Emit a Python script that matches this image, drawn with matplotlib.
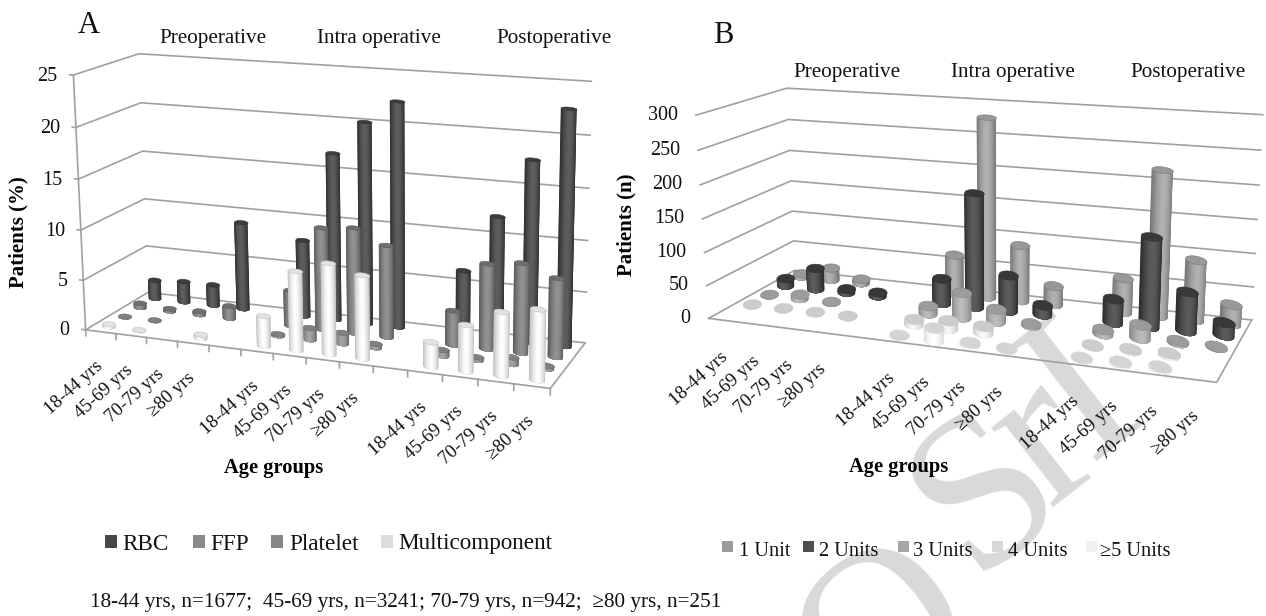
import numpy as np
import matplotlib
matplotlib.use("Agg")
import matplotlib.pyplot as plt
from mpl_toolkits.mplot3d.art3d import Poly3DCollection

plt.rcParams['font.family'] = ['Liberation Serif', 'DejaVu Sans']

W, H = 1266, 616
AGES = ['18-44 yrs', '45-69 yrs', '70-79 yrs', '≥80 yrs']
PERIODS = ['Preoperative', 'Intra operative', 'Postoperative']

# Panel A, percent of patients: pre, intra, post for each of the four age groups
rbc = [2.0, 2.2, 2.2, 9.0, 7.8, 16.8, 20.1, 22.3, 6.4, 12.0, 17.7, 22.7]
ffp = [0.5, 0.3, 0.4, 1.3, 3.6, 10.2, 10.5, 9.1, 3.4, 8.3, 8.7, 7.6]
platelet = [0.1, 0.1, 0.0, 0.0, 0.2, 1.2, 1.1, 0.4, 0.6, 0.3, 0.7, 0.3]
multicomponent = [0.3, 0.1, 0.0, 0.4, 3.0, 7.7, 8.8, 8.0, 2.4, 4.4, 6.0, 6.6]
series_a = ['RBC', 'FFP', 'Platelet', 'Multicomponent']
ticks_a = [0, 5, 10, 15, 20, 25]

# Panel B, number of patients
unit1 = [5, 20, 7, 0, 62, 278, 87, 29, 52, 218, 90, 29]
unit2 = [12, 34, 6, 6, 39, 175, 55, 15, 36, 133, 58, 19]
unit3 = [1, 7, 1, 0, 12, 38, 19, 3, 7, 20, 3, 1]
unit4 = [1, 1, 1, 1, 8, 12, 10, 0, 1, 2, 3, 0]
unit5 = [0, 0, 0, 0, 1, 18, 3, 1, 1, 2, 2, 0]
series_b = ['1 Unit', '2 Units', '3 Units', '4 Units', '≥5 Units']
ticks_b = [0, 50, 100, 150, 200, 250, 300]

# (centre, edge, cap) greys, back row first
shades_a = [('#5e5e5e', '#303030', '#3c3c3c'), ('#929292', '#5c5c5c', '#6e6e6e'),
            ('#a4a4a4', '#6a6a6a', '#808080'), ('#ffffff', '#c2c2c2', '#e2e2e2')]
shades_b = [('#b2b2b2', '#787878', '#989898'), ('#5c5c5c', '#2e2e2e', '#383838'),
            ('#bcbcbc', '#8a8a8a', '#9c9c9c'), ('#f8f8f8', '#c8c8c8', '#cccccc'),
            ('#ffffff', '#dcdcdc', '#d4d4d4')]


def fit_camera(anchors, sx, sy, sz):
    rows = []
    for X, Y, Z, u, v in anchors:
        X, Y, Z, u, v = X / sx, Y / sy, Z / sz, u / 1000, v / 1000
        rows.append([X, Y, Z, 1, 0, 0, 0, 0, -u * X, -u * Y, -u * Z, -u])
        rows.append([0, 0, 0, 0, X, Y, Z, 1, -v * X, -v * Y, -v * Z, -v])
    p = np.linalg.svd(np.array(rows))[2][-1].reshape(3, 4)
    p = p / p[2, 3]
    return np.diag([1000, 1000, 1.0]) @ p @ np.diag([1 / sx, 1 / sy, 1 / sz, 1])


fig = plt.figure(figsize=(W / 100, H / 100), dpi=100, facecolor='white')


def T(px, py, s, **kw):
    return fig.text(px / W, 1 - py / H, s, **kw)


def make_axes(P, ymax):
    ax = fig.add_axes([0, 0, 1, 1], projection='3d', computed_zorder=False)
    ax.set_proj_type('ortho')
    ax.patch.set_visible(False)
    ax.set_axis_off()
    ax.apply_aspect = lambda position=None: None

    def get_proj():
        T3 = ax.transData.get_affine().get_matrix()
        top = np.linalg.inv(T3) @ np.vstack([P[0], H * P[2] - P[1], P[2]])
        return np.vstack([top[0], top[1], [0, 0.4 / ymax, 0, 0.1], top[2]])
    ax.get_proj = get_proj
    return ax


def project(P, x, y, z):
    q = P @ np.array([x, y, z, 1.0])
    return q[0] / q[2], q[1] / q[2]


def cylinder(ax, x, y, h, rx, ry, shade, order, kappa):
    c0, c1, cap = [np.array(matplotlib.colors.to_rgb(c)) for c in shade]
    layers = 10
    for j in range(layers):
        # nested bands from the silhouette inward, so no seams appear between strips
        half = np.pi / 2 * (1 - j / layers)
        t = np.linspace(1.5 * np.pi - half, 1.5 * np.pi + half, 25)
        ex = x + rx * np.cos(t) - kappa * ry * np.sin(t)
        ey = y + ry * np.sin(t)
        band = [(a, b, 0) for a, b in zip(ex, ey)] + [(a, b, h) for a, b in zip(ex[::-1], ey[::-1])]
        k = np.cos(1.5 * np.pi - half) ** 2
        c = (1 - k) * c0 + k * c1
        poly = Poly3DCollection([band], facecolors=[c], edgecolors='none', linewidths=0,
                                zorder=order + 0.01 * j)
        poly.set_snap(False)
        ax.add_collection3d(poly, autolim=False)
    a = np.linspace(0, 2 * np.pi, 41)
    disc = [(x + rx * np.cos(v) - kappa * ry * np.sin(v), y + ry * np.sin(v), h) for v in a]
    top = Poly3DCollection([disc], facecolors=[cap], edgecolors=[c1], linewidths=0.4,
                           zorder=order + 0.2)
    top.set_snap(False)
    ax.add_collection3d(top, autolim=False)


def panel(anchors, rows, shades, zticks, rwx, rwy, line_color, has_ticks):
    nrow = len(rows)
    zmax = zticks[-1]
    P = fit_camera(anchors, 14, nrow, zmax)
    ax = make_axes(P, nrow)
    lw = 1.2
    for z in zticks:
        ax.plot([0, 0, 14], [0, nrow, nrow], [z, z, z], color=line_color, lw=lw, zorder=1,
                solid_joinstyle='miter')
    ax.plot([0, 14, 14], [0, 0, nrow], [0, 0, 0], color=line_color, lw=lw, zorder=1)
    if has_ticks:
        ax.plot([0, 0], [0, 0], [0, zmax], color=line_color, lw=lw, zorder=1)
        tz = -zmax * 0.024
        for i in range(15):
            ax.plot([i, i], [0, 0], [0, tz], color=line_color, lw=lw, zorder=1)
        for z in zticks:
            ax.plot([0, -0.12], [0, 0], [z, z], color=line_color, lw=lw, zorder=1)
    # oblique shift so that caps read as level ellipses on screen
    a = np.subtract(project(P, 7, nrow / 2 + 1, 0), project(P, 7, nrow / 2, 0))
    b = np.subtract(project(P, 8, nrow / 2, 0), project(P, 7, nrow / 2, 0))
    kappa = a[0] / b[0]
    for r, values in enumerate(rows):
        y = nrow - 0.5 - r
        for k, v in enumerate(values):
            if v <= 0:
                continue
            x = (k // 4) * 5 + (k % 4) + 0.5
            cylinder(ax, x, y, v, rwx, rwy, shades[r], 10 + r * 10 + k * 0.5, kappa)
    return P


anchors_a = [(0, 0, 0, 85, 330), (0, 0, 25, 74, 75), (0, 4, 0, 157, 293), (0, 4, 25, 138, 53),
             (14, 4, 0, 582, 342), (14, 4, 25, 592, 82), (14, 0, 0, 550, 387),
             (7, 0, 0, 306, 358), (0, 0, 10, 81, 230), (14, 4, 10, 586, 241),
             (0, 4, 10, 142, 199), (3, 0, 0, 177, 342), (11, 0, 0, 443, 375),
             (0, 0, 0, 85, 330), (0, 0, 25, 74, 75), (0, 0, 25, 74, 75),
             (0.5, 3.5, 0, 151, 298), (3.5, 3.5, 0, 240, 308), (13.5, 3.5, 0, 569, 347)]
anchors_b = [(0, 0, 0, 708, 319), (0, 0, 300, 697, 115), (0, 5, 0, 797, 270), (0, 5, 300, 786, 88),
             (14, 5, 0, 1252, 320), (14, 5, 300, 1263, 115), (14, 0, 0, 1217, 382),
             (7, 0, 0, 944, 348), (0, 5, 50, 792, 241), (14, 5, 50, 1253, 287)]

# watermark under everything: letter, baseline point in pixels
for ch, bx, by in [('O', 922, 676), ('S', 1020, 538), ('r', 1078, 485), ('I', 1118, 438)]:
    T(bx, by, ch, fontsize=159, color='#d9d9d9', rotation=38, ha='center', va='baseline',
      rotation_mode='anchor', zorder=-5, family='Liberation Serif')

Pa = panel(anchors_a, [rbc, ffp, platelet, multicomponent], shades_a, ticks_a,
           0.22, 0.22, '#a0a0a0', True)
Pb = panel(anchors_b, [unit1, unit2, unit3, unit4, unit5], shades_b, ticks_b,
           0.285, 0.41, '#a0a0a0', False)

# value-axis labels
for z in ticks_a:
    u, v = project(Pa, 0, 0, z)
    T(u - 16, v + 1, str(z), fontsize=14.5, ha='right', va='center', color='#111111')
for z in ticks_b:
    u, v = project(Pb, 0, 0, z)
    T(u - 18, v, str(z), fontsize=14.5, ha='right', va='center', color='#111111')

# category labels
for g in range(3):
    for i, lab in enumerate(AGES):
        x = g * 5 + i + 0.5
        u, v = project(Pa, x, 0, 0)
        T(u - 6, v + 26, lab, fontsize=13.5, rotation=42, ha='right', va='top',
          rotation_mode='anchor', color='#111111')
        u, v = project(Pb, x, 0, 0)
        T(u - 5, v + 28, lab, fontsize=13.5, rotation=42, ha='right', va='top',
          rotation_mode='anchor', color='#111111')

# headings
for (cx, cy, s) in zip([212.5, 378.5, 554], [38] * 3, PERIODS):
    T(cx, cy, s, fontsize=15.2, ha='center', va='center', color='#111111')
for (cx, cy, s) in zip([847, 1012.5, 1188.5], [72] * 3, PERIODS):
    T(cx, cy, s, fontsize=15.2, ha='center', va='center', color='#111111')
T(78, 33, 'A', fontsize=22, ha='left', va='baseline', color='#111111')
T(713, 43, 'B', fontsize=22, ha='left', va='baseline', color='#111111')
T(18, 232, 'Patients (%)', fontsize=15, fontweight='bold', rotation=90, ha='center', va='center')
T(626, 225, 'Patients (n)', fontsize=15, fontweight='bold', rotation=90, ha='center', va='center')
T(274, 468, 'Age groups', fontsize=14.8, fontweight='bold', ha='center', va='center')
T(899, 467, 'Age groups', fontsize=14.8, fontweight='bold', ha='center', va='center')

# legends
leg_a = [(105, 122), (193, 210), (271, 289), (381, 398)]
cols_a = ['#484848', '#8a8a8a', '#868686', '#dcdcdc']
for (sq, tx), name, c in zip(leg_a, series_a, cols_a):
    fig.patches.append(plt.Rectangle((sq / W, 1 - 548 / H), 12 / W, 13 / H, transform=fig.transFigure,
                                     facecolor=c, edgecolor='none'))
    T(tx, 544, name, fontsize=16.7, ha='left', va='center', color='#111111')
leg_b = [(722, 739), (803, 819), (898, 913), (992, 1008), (1086, 1100)]
cols_b = ['#9a9a9a', '#4e4e4e', '#a6a6a6', '#d8d8d8', '#f0f0f0']
for (sq, tx), name, c in zip(leg_b, series_b, cols_b):
    fig.patches.append(plt.Rectangle((sq / W, 1 - 552 / H), 11 / W, 11 / H, transform=fig.transFigure,
                                     facecolor=c, edgecolor='none'))
    T(tx, 551, name, fontsize=14.7, ha='left', va='center', color='#111111')

T(90, 603, '18-44 yrs, n=1677;  45-69 yrs, n=3241; 70-79 yrs, n=942;  ≥80 yrs, n=251',
  fontsize=15.3, ha='left', va='center', color='#111111')

fig.savefig('out.png', dpi=100, facecolor='white')
